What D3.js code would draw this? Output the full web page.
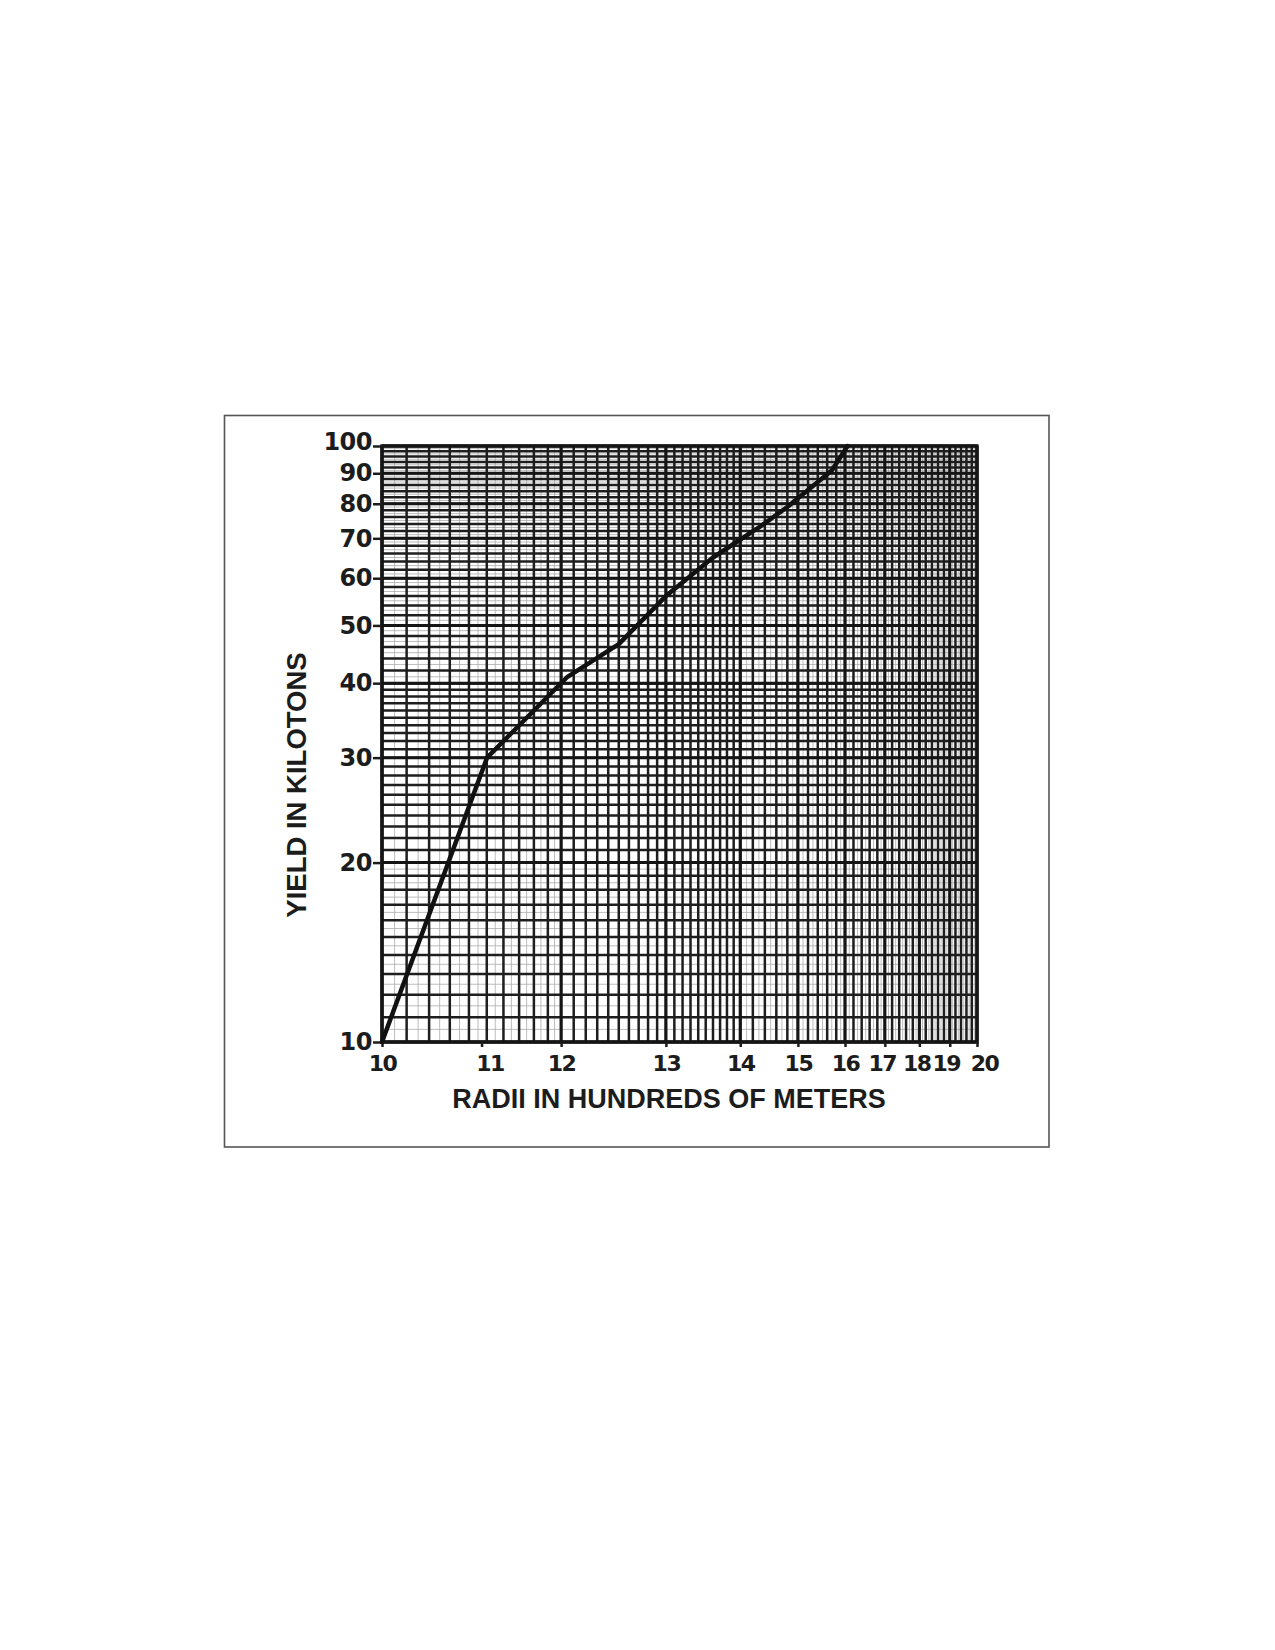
<!DOCTYPE html>
<html>
<head>
<meta charset="utf-8">
<script src="https://cdn.jsdelivr.net/npm/d3@7"></script>
<style>
  body { margin: 0; background: #fff; }
  text { font-family: "Liberation Sans", Arial, sans-serif; font-weight: bold; fill: #1c1c1c; }
  .tick text { font-family: "DejaVu Sans", "Liberation Sans", sans-serif; }
</style>
</head>
<body>
<div id="chart"></div>
<script>

  // yield axis (log) tick values, kilotons
  var yTicks = [10, 20, 30, 40, 50, 60, 70, 80, 90, 100];

  // radius tick labels (hundreds of meters) and where each one sits on the
  // one-cycle log paper the chart was drawn on (the labels are not log spaced)
  var radiusTicks = [10, 11, 12, 13, 14, 15, 16, 17, 18, 19, 20];
  var radiusPaper = [1, 1.47, 2, 3, 4, 5, 6, 7, 8, 9, 10];

  // the curve
  var curveRadius = [10, 11.06, 12.05, 12.5, 13.0, 13.6, 14.3, 14.8, 15.7, 16.06];
  var curveYield  = [10, 30, 41, 46.5, 56, 65, 73, 79, 91, 100];

  //=========================================================================
  // Dimensions
  //=========================================================================
  var W = 1275, H = 1650;
  var margin = { top: 446, left: 382 },
      iwidth = 595,
      iheight = 596;

  // small sideways nudges of crowded x labels (px), as printed
  var xLabelNudge = { 11: 8, 17: -3, 18: -3, 19: -4, 20: 7 };

  var svg = d3.select("#chart").append("svg")
    .attr("width", W)
    .attr("height", H);

  svg.append("rect").attr("width", W).attr("height", H).attr("fill", "#fff");

  // outer frame
  svg.append("rect")
    .attr("x", 224.5).attr("y", 415.5)
    .attr("width", 824.5).attr("height", 731.5)
    .attr("fill", "none")
    .attr("stroke", "#555")
    .attr("stroke-width", 1.6);

  var g = svg.append("g")
    .attr("transform", `translate(${margin.left}, ${margin.top})`);

  //=========================================================================
  // Scales
  //=========================================================================
  var xPaper = d3.scaleLog().domain([1, 10]).range([0, iwidth]);
  var radiusToPaper = d3.scaleLinear().domain(radiusTicks).range(radiusPaper);
  var y = d3.scaleLog().domain([10, 100]).range([iheight, 0]);

  //=========================================================================
  // Log paper grid
  //=========================================================================
  function steps(a, b, s) {
    return d3.range(Math.round((b - a) / s) + 1).map(function(i) { return +(a + i * s).toFixed(3); });
  }

  var vLight = steps(1, 2, 0.05).concat(steps(4, 10, 0.1));
  var vMain  = steps(1, 4, 0.1).concat(steps(4, 10, 0.2));
  var vHeavy = steps(1, 10, 1);

  var hLight = steps(10, 20, 0.5).concat(steps(40, 100, 1));
  var hMain  = steps(10, 40, 1).concat(steps(40, 100, 2));
  var hHeavy = steps(10, 100, 10);

  function vLines(vals, w, col) {
    g.append("g").selectAll("line").data(vals).enter().append("line")
      .attr("x1", function(d) { return xPaper(d); })
      .attr("x2", function(d) { return xPaper(d); })
      .attr("y1", 0).attr("y2", iheight)
      .attr("stroke", col).attr("stroke-width", w);
  }
  function hLines(vals, w, col) {
    g.append("g").selectAll("line").data(vals).enter().append("line")
      .attr("y1", function(d) { return y(d); })
      .attr("y2", function(d) { return y(d); })
      .attr("x1", 0).attr("x2", iwidth)
      .attr("stroke", col).attr("stroke-width", w);
  }

  vLines(vLight, 0.8, "#ababab");
  hLines(hLight, 0.8, "#ababab");
  vLines(vMain, 2.5, "#1e1e1e");
  hLines(hMain, 2.5, "#1e1e1e");
  vLines(vHeavy, 3, "#151515");
  hLines(hHeavy, 3, "#151515");

  g.append("rect")
    .attr("width", iwidth).attr("height", iheight)
    .attr("fill", "none").attr("stroke", "#151515").attr("stroke-width", 3.4);

  //=========================================================================
  // Axes
  //=========================================================================
  var yAxis = g.append("g")
    .call(d3.axisLeft(y).tickValues(yTicks).tickFormat(d3.format("d")).tickSize(9).tickPadding(1));
  yAxis.select(".domain").remove();
  yAxis.selectAll("line").attr("stroke", "#1c1c1c").attr("stroke-width", 2.5);
  yAxis.selectAll("text")
    .attr("font-size", 24).attr("letter-spacing", -0.5)
    .attr("font-family", null).attr("fill", null);
  yAxis.selectAll("text").filter(function(d) { return d === 100; }).attr("dy", "0.15em");

  var xAxis = g.append("g")
    .attr("transform", `translate(0, ${iheight})`)
    .call(d3.axisBottom(xPaper)
      .tickValues(radiusPaper)
      .tickFormat(function(d, i) { return radiusTicks[i]; })
      .tickSize(5).tickPadding(8));
  xAxis.select(".domain").remove();
  xAxis.selectAll("line").attr("stroke", "#1c1c1c").attr("stroke-width", 2.5);
  xAxis.selectAll("text")
    .attr("font-size", 22).attr("letter-spacing", -1.5)
    .attr("font-family", null).attr("fill", null)
    .attr("dx", function() { return xLabelNudge[this.textContent] || 0; });

  // axis titles
  svg.append("text")
    .attr("x", 669).attr("y", 1108)
    .attr("text-anchor", "middle")
    .attr("font-size", 27)
    .text("RADII IN HUNDREDS OF METERS");

  svg.append("text")
    .attr("transform", "translate(306, 785) rotate(-90)")
    .attr("text-anchor", "middle")
    .attr("font-size", 27.5)
    .text("YIELD IN KILOTONS");

  //=========================================================================
  // Curve
  //=========================================================================
  var curve = curveRadius.map(function(r, i) { return { r: r, kt: curveYield[i] }; });

  g.append("path")
    .datum(curve)
    .attr("fill", "none")
    .attr("stroke", "#111")
    .attr("stroke-width", 4.5)
    .attr("stroke-linejoin", "round")
    .attr("stroke-linecap", "round")
    .attr("d", d3.line()
      .x(function(d) { return xPaper(radiusToPaper(d.r)); })
      .y(function(d) { return y(d.kt); }));

</script>
</body>
</html>
